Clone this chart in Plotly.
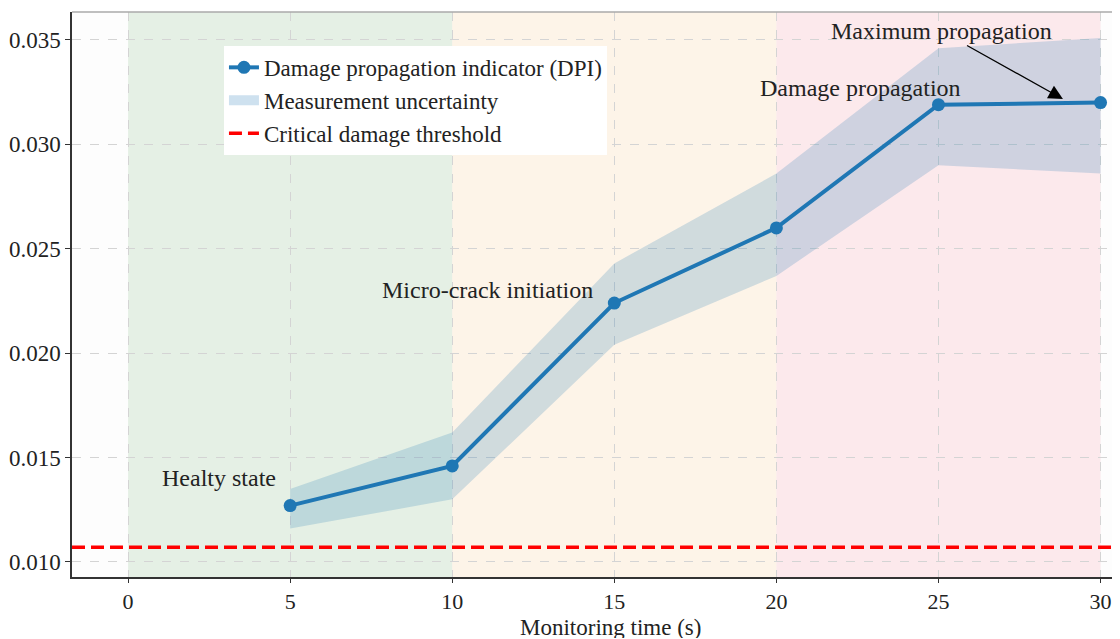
import plotly.graph_objects as go

# ---- data ----
time_s = [5, 10, 15, 20, 25, 30]
dpi = [0.0127, 0.0146, 0.0224, 0.0260, 0.0319, 0.0320]
dpi_upper = [0.0135, 0.0162, 0.0243, 0.0286, 0.0346, 0.0351]
dpi_lower = [0.0116, 0.0130, 0.0204, 0.0237, 0.0290, 0.0286]
threshold = 0.0107
phase_bounds = [(0, 10), (10, 20), (20, 30)]
phase_colors = ["rgba(214,232,214,0.6)", "rgba(253,235,212,0.5)", "rgba(252,214,219,0.5)"]
x_tick_vals = [0, 5, 10, 15, 20, 25, 30]
y_tick_vals = [0.010, 0.015, 0.020, 0.025, 0.030, 0.035]
x_range = [-1.73, 30.6]
y_range = [0.00928, 0.03634]

FONT = "Liberation Serif"
BLUE = "#1f77b4"

fig = go.Figure()

# uncertainty band
fig.add_trace(go.Scatter(x=time_s, y=dpi_upper, mode="lines",
                         line=dict(width=0, color="rgba(31,119,180,0)"),
                         showlegend=False, hoverinfo="skip"))
fig.add_trace(go.Scatter(x=time_s, y=dpi_lower, mode="lines", fill="tonexty",
                         fillcolor="rgba(31,119,180,0.2)",
                         line=dict(width=0, color="rgba(31,119,180,0)"),
                         showlegend=False, hoverinfo="skip"))
# threshold
fig.add_trace(go.Scatter(x=x_range, y=[threshold, threshold], mode="lines",
                         line=dict(color="#ff0000", width=3.5, dash="13px,6px"),
                         name="Critical damage threshold", legendrank=3))
# DPI
fig.add_trace(go.Scatter(x=time_s, y=dpi, mode="lines+markers",
                         line=dict(color=BLUE, width=4),
                         marker=dict(color=BLUE, size=13),
                         name="Damage propagation indicator (DPI)", legendrank=1))
# legend swatch for the uncertainty band
fig.add_trace(go.Scatter(x=[None], y=[None], mode="lines",
                         line=dict(color="rgba(31,119,180,0.22)", width=15),
                         name="Measurement uncertainty", legendrank=2))

# phase shading
for (x0, x1), c in zip(phase_bounds, phase_colors):
    fig.add_vrect(x0=x0, x1=x1, fillcolor=c, line_width=0, layer="below")

# top border
fig.add_shape(type="line", xref="paper", yref="paper", x0=0, x1=1, y0=1, y1=1,
              line=dict(color="#aaaaaa", width=1.5))

ann_font = dict(family=FONT, size=24, color="#222222")
fig.add_annotation(x=2.81, y=0.01402, text="Healty state", showarrow=False, font=ann_font)
fig.add_annotation(x=11.1, y=0.02303, text="Micro-crack initiation", showarrow=False, font=ann_font)
fig.add_annotation(x=22.58, y=0.0327, text="Damage propagation", showarrow=False, font=ann_font)
fig.add_annotation(x=28.84, y=0.03217, ax=25.08, ay=0.03543, axref="x", ayref="y",
                   text="Maximum propagation", showarrow=True, arrowhead=2,
                   arrowsize=2.2, arrowwidth=1.3, arrowcolor="black", font=ann_font)
# x-axis title
fig.add_annotation(xref="paper", yref="paper", x=0.514, y=-0.0885, yanchor="middle",
                   height=22, valign="middle",
                   text="Monitoring time (s)", showarrow=False,
                   font=dict(family=FONT, size=23, color="#222222"))

fig.update_layout(
    width=1120, height=639,
    margin=dict(l=64, r=8, t=4, b=70),
    paper_bgcolor="white",
    plot_bgcolor="#fdfdfd",
    font=dict(family=FONT, size=22, color="#222222"),
    showlegend=True,
    legend=dict(x=0.145, y=0.94, xanchor="left", yanchor="top",
                bgcolor="white", borderwidth=0, traceorder="normal",
                font=dict(family=FONT, size=23, color="#222222"),
                tracegroupgap=0),
    xaxis=dict(range=x_range, tickvals=x_tick_vals, ticks="outside", ticklen=4,
               tickcolor="#333333", showline=True, linecolor="#333333", linewidth=1.5,
               showgrid=True, gridcolor="#d4d4d4", griddash="dash", gridwidth=1,
               zeroline=False, automargin=False,
               tickfont=dict(family=FONT, size=22)),
    yaxis=dict(range=y_range, tickvals=y_tick_vals, tickformat=".3f",
               ticks="outside", ticklen=5, tickcolor="#333333",
               showline=True, linecolor="#333333", linewidth=1.5,
               showgrid=True, gridcolor="#d4d4d4", griddash="dash", gridwidth=1,
               zeroline=False, automargin=False,
               tickfont=dict(family=FONT, size=23)),
)

fig.write_html("out.html")
